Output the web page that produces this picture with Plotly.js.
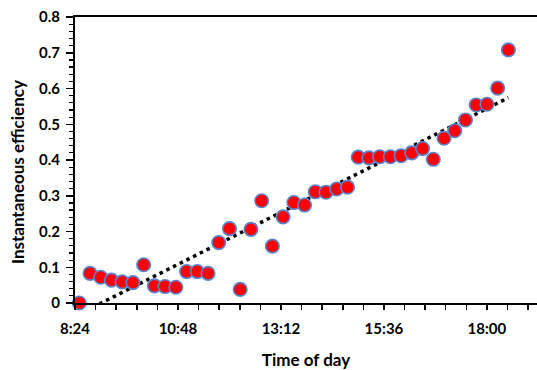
<!DOCTYPE html>
<html>
<head>
<meta charset="utf-8">
<script src="https://cdn.plot.ly/plotly-3.0.1.min.js"></script>
<style>html,body{margin:0;padding:0;background:#fff;}#chart{width:537px;height:370px;}</style>
</head>
<body>
<div id="chart"></div>
<script>
// Measurement times (time of day)
var times = ["8:30","8:45","9:00","9:15","9:30","9:45","10:00","10:15","10:30","10:45",
             "11:00","11:15","11:30","11:45","12:00","12:15","12:30","12:45","13:00","13:15",
             "13:30","13:45","14:00","14:15","14:30","14:45","15:00","15:15","15:30","15:45",
             "16:00","16:15","16:30","16:45","17:00","17:15","17:30","17:45","18:00","18:15","18:30"];
// Instantaneous efficiency
var efficiency = [0.000,0.083,0.072,0.064,0.059,0.057,0.107,0.048,0.046,0.044,
                  0.088,0.088,0.083,0.169,0.208,0.038,0.206,0.286,0.159,0.241,
                  0.281,0.274,0.311,0.310,0.319,0.324,0.408,0.406,0.409,0.409,
                  0.412,0.420,0.432,0.402,0.461,0.482,0.512,0.554,0.556,0.601,0.708];
var xTickLabels = ["8:24","10:48","13:12","15:36","18:00"];
var yTickValues = [0,0.1,0.2,0.3,0.4,0.5,0.6,0.7,0.8];

function toMin(s){var p=s.split(":");return (+p[0])*60+(+p[1]);}
var x = times.map(toMin);
var xTickVals = xTickLabels.map(toMin);

// Linear trendline (least squares fit of the data)
var n=x.length, mx=0, my=0;
for(var i=0;i<n;i++){mx+=x[i];my+=efficiency[i];}
mx/=n; my/=n;
var sxy=0,sxx=0;
for(var i=0;i<n;i++){sxy+=(x[i]-mx)*(efficiency[i]-my);sxx+=(x[i]-mx)*(x[i]-mx);}
var slope=sxy/sxx, icpt=my-slope*mx;
var trendX=[x[0],x[n-1]];
var trendY=trendX.map(function(v){return icpt+slope*v;});

var fam = "Lato, 'Open Sans', sans-serif";

var data = [
  {x:trendX, y:trendY, type:"scatter", mode:"lines",
   line:{color:"#000", width:3.5, dash:"3.5px,4px"}, hoverinfo:"skip", showlegend:false},
  {x:x, y:efficiency, type:"scatter", mode:"markers",
   marker:{color:"#FF0000", size:13.5, line:{color:"#5B85CF", width:1.6}}, showlegend:false, cliponaxis:false}
];

var layout = {
  width:537, height:370,
  margin:{l:75, r:0, t:17, b:67},
  paper_bgcolor:"#fff", plot_bgcolor:"#fff",
  font:{family:fam, size:15, color:"#000", weight:"bold"},
  showlegend:false,
  xaxis:{
    range:[504, 1150], showgrid:false, zeroline:false,
    showline:true, linecolor:"#000", linewidth:2, mirror:true,
    tickmode:"array", tickvals:xTickVals, ticktext:xTickLabels,
    ticks:"outside", ticklen:5, tickwidth:1.5, tickcolor:"#000",
    minor:{tick0:504, dtick:28.8, ticks:"outside", ticklen:5, tickwidth:1.5, tickcolor:"#000", showgrid:false},
    tickfont:{family:fam, size:15, color:"#000", weight:"bold"},
    ticklabelstandoff:6,
    title:{text:"Time of day", font:{family:fam, size:17, color:"#000", weight:"bold"}, standoff:19}
  },
  yaxis:{
    range:[0,0.8], showgrid:false, zeroline:false,
    showline:true, linecolor:"#000", linewidth:2,
    tickmode:"array", tickvals:yTickValues,
    ticks:"outside", ticklen:7, tickwidth:1.5, tickcolor:"#000",
    minor:{dtick:0.02, tick0:0, ticks:"outside", ticklen:4, tickwidth:1.2, tickcolor:"#000", showgrid:false},
    tickfont:{family:fam, size:15, color:"#000", weight:"bold"},
    ticklabelstandoff:3
  },
  annotations:[{
    text:"Instantaneous efficiency", textangle:-90, showarrow:false,
    xref:"paper", yref:"paper", x:-0.1255, y:0.458, xanchor:"center", yanchor:"middle",
    font:{family:fam, size:17, color:"#000", weight:"bold"}
  }]
};

Plotly.newPlot("chart", data, layout, {staticPlot:true, displayModeBar:false});
</script>
</body>
</html>
